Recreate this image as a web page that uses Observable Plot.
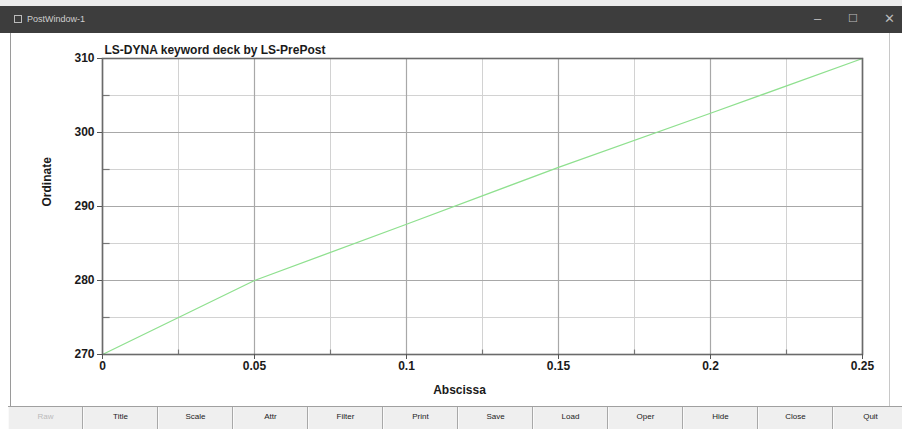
<!DOCTYPE html>
<html>
<head>
<meta charset="utf-8">
<script src="https://cdn.jsdelivr.net/npm/d3@7"></script>
<script src="https://cdn.jsdelivr.net/npm/@observablehq/plot@0.6"></script>
<style>
  html, body { margin: 0; padding: 0; background: #fff; }
  body { width: 902px; height: 429px; overflow: hidden; position: relative; font-family: "Liberation Sans", Arial, sans-serif; }
  #topstrip { position: absolute; left: 0; top: 0; width: 902px; height: 6px; background: #ececec; }
  #bar { position: absolute; left: 0; top: 6px; width: 902px; height: 27px; background: #3d3d3d; color: #cfcfcf; font-size: 9px; }
  #bar .icon { position: absolute; left: 14px; top: 9px; width: 8px; height: 8px; border: 1px solid #bbb; box-sizing: border-box; }
  #bar .name { position: absolute; left: 27px; top: 8px; }
  #bar .ctl { position: absolute; top: 5px; font-size: 13px; color: #bbb; }
  #main { position: absolute; left: 10px; top: 33px; width: 880px; height: 373px; border-left: 1.5px solid #9a9a9a; border-right: 1px solid #c8c8c8; box-sizing: border-box; }
  #chart { position: absolute; left: 10px; top: 33px; }
  #buttons { position: absolute; left: 8px; top: 406px; width: 910px; height: 23px; display: flex; background: #efefef; border-top: 1.5px solid #a0a0a0; }
  #buttons div { flex: 0 0 75px; box-sizing: border-box; border-right: 1px solid #a8a8a8; border-left: 1px solid #fafafa; text-align: center; font-size: 8px; line-height: 20px; color: #222; }
  #buttons div.off { color: #bbb; }
</style>
</head>
<body>
<div id="topstrip"></div>
<div id="bar">
  <div class="icon"></div>
  <div class="name">PostWindow-1</div>
  <div class="ctl" style="left:814px">&#8211;</div>
  <div class="ctl" style="left:848px;font-size:11px;top:6px">&#9744;</div>
  <div class="ctl" style="left:884px">&#10005;</div>
</div>
<div id="main"></div>
<div id="chart"></div>
<div id="buttons"></div>
<script>
// Data
const abscissa = [0, 0.05, 0.1, 0.15, 0.2, 0.25];
const ordinate = [270, 280, 287.6, 295.3, 302.6, 310];

const xMajor = [0, 0.05, 0.1, 0.15, 0.2, 0.25];
const xMinor = [0.025, 0.075, 0.125, 0.175, 0.225];
const yMajor = [270, 280, 290, 300, 310];
const yMinor = [275, 285, 295, 305];
const xTickLabels = ["0", "0.05", "0.1", "0.15", "0.2", "0.25"];
const yTickLabels = ["270", "280", "290", "300", "310"];

const titleText = "LS-DYNA keyword deck by LS-PrePost";
const xLabel = "Abscissa";
const yLabel = "Ordinate";
const buttonLabels = ["Raw", "Title", "Scale", "Attr", "Filter", "Print", "Save", "Load", "Oper", "Hide", "Close", "Quit"];

const data = abscissa.map((x, i) => ({x, y: ordinate[i]}));

const chart = Plot.plot({
  width: 880,
  height: 373,
  marginLeft: 92,
  marginRight: 28,
  marginTop: 25,
  marginBottom: 52,
  style: {fontFamily: "'Liberation Sans', Arial, sans-serif", color: "#1a1a1a", background: "transparent"},
  x: {domain: [0, 0.25]},
  y: {domain: [270, 310]},
  marks: [
    Plot.gridX(xMinor, {stroke: "#d2d2d2", strokeOpacity: 1, strokeWidth: 1}),
    Plot.gridY(yMinor, {stroke: "#d2d2d2", strokeOpacity: 1, strokeWidth: 1}),
    Plot.gridX(xMajor, {stroke: "#a8a8a8", strokeOpacity: 1, strokeWidth: 1.2}),
    Plot.gridY(yMajor, {stroke: "#a8a8a8", strokeOpacity: 1, strokeWidth: 1.2}),
    Plot.ruleX(xMinor, {y1: 270, y2: 270.6, stroke: "#777", strokeWidth: 1.2}),
    Plot.ruleY(yMinor, {x1: 0, x2: 0.0025, stroke: "#777", strokeWidth: 1.2}),
    Plot.line(data, {x: "x", y: "y", stroke: "#8fe08f", strokeWidth: 1.3}),
    Plot.frame({stroke: "#6a6a6a", strokeWidth: 1.6}),
    Plot.axisX(xMajor, {
      tickSize: 5, tickPadding: 2, stroke: "#555",
      tickFormat: (d, i) => xTickLabels[i],
      fontSize: 12, fontWeight: "bold", label: null
    }),
    Plot.axisY(yMajor, {
      tickSize: 5, tickPadding: 3, stroke: "#555",
      tickFormat: (d, i) => yTickLabels[i],
      fontSize: 12, fontWeight: "bold", label: null
    }),
    Plot.text([titleText], {text: d => d, frameAnchor: "top-left", dx: 2, dy: -8, fontSize: 12, fontWeight: "bold", textAnchor: "start", lineAnchor: "middle", fill: "#1a1a1a"}),
    Plot.text([xLabel], {text: d => d, frameAnchor: "bottom", dx: -23, dy: 36, fontSize: 12, fontWeight: "bold", lineAnchor: "middle", fill: "#1a1a1a"}),
    Plot.text([yLabel], {text: d => d, frameAnchor: "left", dx: -55, rotate: -90, fontSize: 12, fontWeight: "bold", lineAnchor: "middle", fill: "#1a1a1a"})
  ]
});
document.getElementById("chart").appendChild(chart);

const bar = document.getElementById("buttons");
buttonLabels.forEach((b, i) => {
  const el = document.createElement("div");
  el.textContent = b;
  if (i === 0) el.className = "off";
  bar.appendChild(el);
});
</script>
</body>
</html>
